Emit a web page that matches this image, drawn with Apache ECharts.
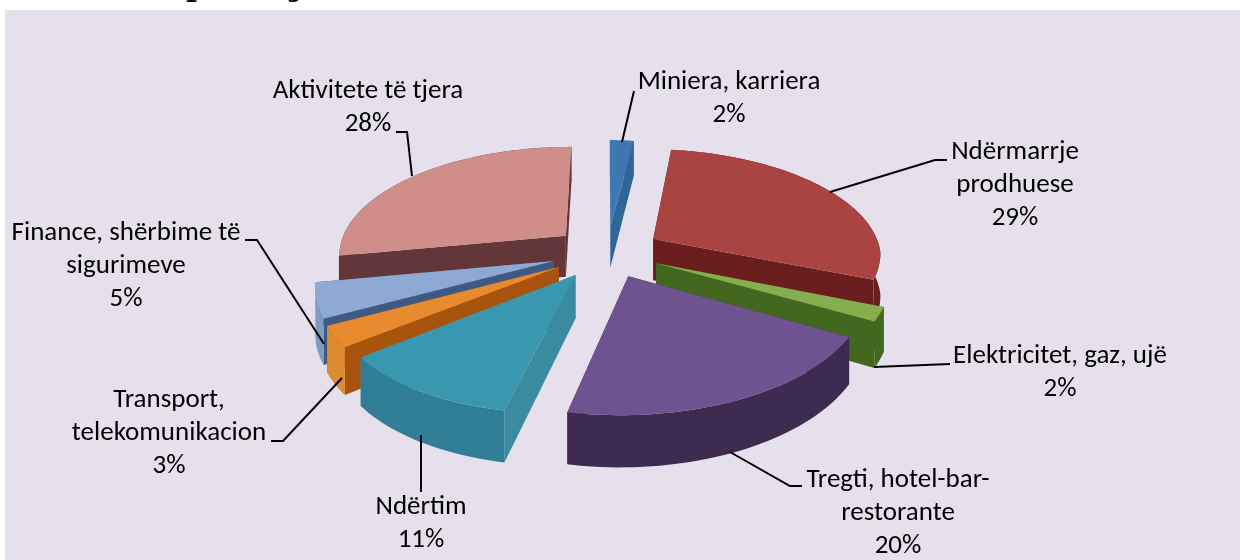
<!DOCTYPE html>
<html><head><meta charset="utf-8">
<style>html,body{margin:0;padding:0;background:#fff}#c{width:1240px;height:560px}</style>
<script src="https://cdn.jsdelivr.net/npm/echarts@6/dist/echarts.min.js"></script>
</head><body><div id="c"></div>
<script>
const categories = ['Miniera, karriera','Ndërmarrje\nprodhuese','Elektricitet, gaz, ujë','Tregti, hotel-bar-\nrestorante','Ndërtim','Transport,\ntelekomunikacion','Finance, shërbime të\nsigurimeve','Aktivitete të tjera'];
const values = [2,29,2,20,11,3,5,28];
const topColors = ['#3F77B2','#A94442','#86AE4E','#6F5290','#3A97B0','#E88A2E','#8DA9D4','#D08E8B'];
const outerColors = ['#3A6EA5','#6B1E1E','#44671F','#3E2B50','#317F96','#DE8A30','#7E9CC4','#633639'];
const radialColors = ['#2F6597','#6B1E1E','#44671F','#3E2B50','#3A8AA0','#A8540F','#3F5A82','#633639'];
const labelAnchors = [[729,99],[1015,185],[1060,373],[898,513],[421,524],[169,433],[126,266],[368,108]];
const leaders = [
 [[622,142],[634,91]],
 [[830,192],[935,160],[947,160]],
 [[874,367],[950,364]],
 [[730,452],[790,486],[802,486]],
 [[421,435],[421,492]],
 [[342,378],[283,441],[271,441]],
 [[324,344],[257,240],[245,240]],
 [[412,176],[407,132],[396,132]]
];
const titleFragments = [['p',186],['j',291]];
const total = values.reduce((a,b)=>a+b,0);
const CX=607,CY=252,A=228,B=108,K=0.16,E=0.24,DEPTH=42,SHEAR=13;
function proj(x,y,z){const s=1/(1-K*y);return [CX+A*x*s-SHEAR*Math.max(y,0),CY+B*y*s+z*DEPTH*s];}
function slice(i){
  let c=0;for(let j=0;j<i;j++)c+=values[j];
  const a0=c/total*2*Math.PI,a1=(c+values[i])/total*2*Math.PI,m=(a0+a1)/2;
  const ox=E*Math.sin(m),oy=-E*Math.cos(m);
  const n=Math.max(2,Math.ceil((a1-a0)/0.03));
  const arc=[];
  for(let t=0;t<=n;t++){const a=a0+(a1-a0)*t/n;arc.push([ox+Math.sin(a),oy-Math.cos(a)]);}
  return {ox,oy,arc,m};
}
const renderItem=(params,api)=>{
  const i=params.dataIndex, S=slice(i), base=Math.round((S.oy+2)*100)*10;
  const top=p=>proj(p[0],p[1],0), bot=p=>proj(p[0],p[1],1);
  const apex=[S.ox,S.oy];
  const first=S.arc[0], last=S.arc[S.arc.length-1];
  const poly=(pts,fill,z)=>({type:'polygon',z2:base+z,shape:{points:pts},style:{fill}});
  const wall=(p,q,fill,z)=>poly([top(p),top(q),bot(q),bot(p)],fill,z);
  const band=S.arc.map(top).concat(S.arc.slice().reverse().map(bot));
  const children=[];
  const walls=[
    {y:(first[1]+apex[1])/2,el:z=>wall(apex,first,radialColors[i],z)},
    {y:(last[1]+apex[1])/2,el:z=>wall(apex,last,radialColors[i],z)},
    {y:S.oy+0.75*Math.abs(-Math.cos(S.m))*(-Math.cos(S.m)>=0?1:-1),el:z=>poly(band,outerColors[i],z)}
  ].sort((a,b)=>a.y-b.y);
  walls.forEach((w,k)=>children.push(w.el(k)));
  children.push(poly([top(apex)].concat(S.arc.map(top)),topColors[i],5));
  return {type:'group',children};
};
const labelRender=(params,api)=>{
  const i=params.dataIndex, v=api.value(0);
  const line={type:'polyline',z2:9000,shape:{points:leaders[i]},style:{fill:'none',stroke:'#000',lineWidth:2}};
  const txt={type:'text',z2:9001,x:labelAnchors[i][0],y:labelAnchors[i][1],style:{text:categories[i]+'\n'+v+'%',fill:'#000',font:'27px Carlito, Lato, sans-serif',lineHeight:33,align:'center',verticalAlign:'middle'}};
  return {type:'group',children:[line,txt]};
};
const chart=echarts.init(document.getElementById('c'),null,{renderer:'canvas'});
chart.setOption({
  animation:false,
  backgroundColor:'#fff',
  graphic:[
    {type:'rect',z:-1,shape:{x:5,y:10,width:1235,height:550},style:{fill:'#E5E0EC'}}
  ].concat(titleFragments.map(f=>({type:'text',z:-1,x:f[1],y:-12,style:{text:f[0],fill:'#000',font:'bold 30px "DejaVu Serif"',align:'left',verticalAlign:'middle'}}))),
  series:[
    {type:'custom',coordinateSystem:'none',renderItem,data:values.map(v=>[v]),z:2},
    {type:'custom',coordinateSystem:'none',renderItem:labelRender,data:values.map(v=>[v]),z:3}
  ]
});
</script></body></html>
